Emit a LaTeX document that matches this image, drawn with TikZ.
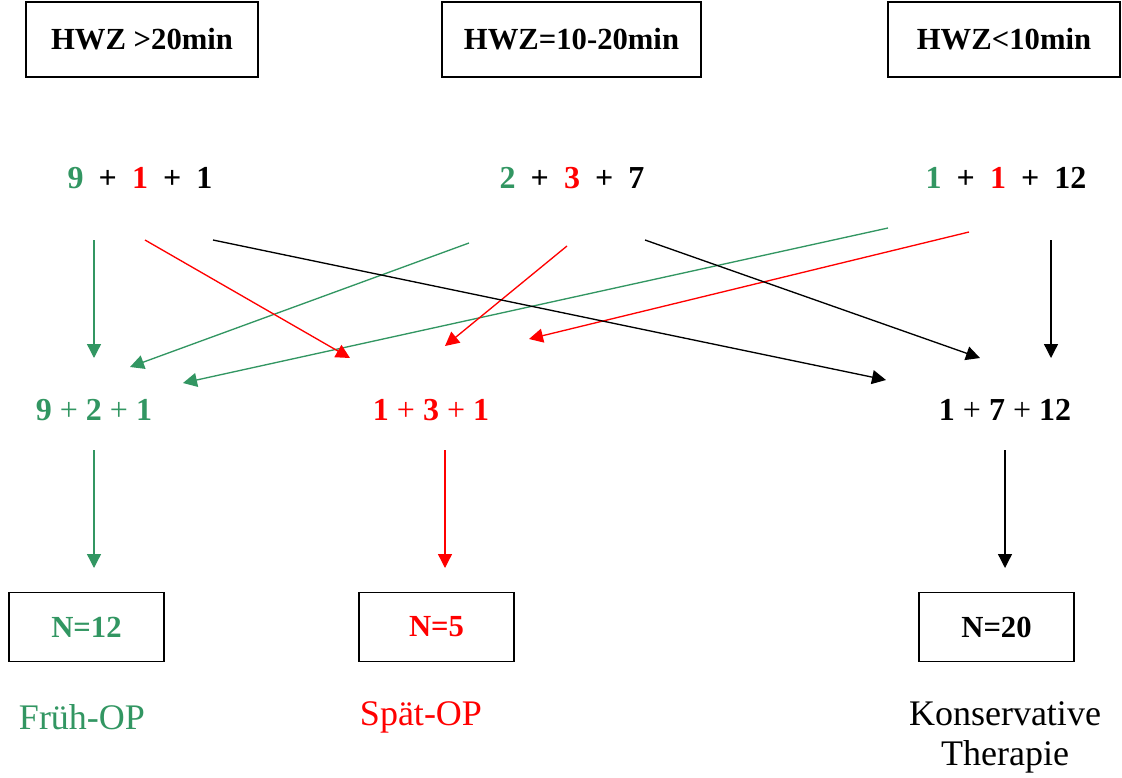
\documentclass[tikz,border=0pt]{standalone}
\usepackage{fontspec}
\setmainfont{Liberation Serif}
\usetikzlibrary{arrows.meta}
\definecolor{grn}{RGB}{50,150,98}
\definecolor{rd}{RGB}{255,0,0}
\begin{document}
\begin{tikzpicture}[x=0.75pt,y=-0.75pt,
  head/.style={draw=black,line width=1.1pt,minimum width=#1,minimum height=56pt,inner sep=0pt,
    font=\fontsize{23}{27}\selectfont\bfseries},
  res/.style={draw=black,line width=1.1pt,minimum width=116pt,minimum height=52pt,inner sep=0pt,
    font=\fontsize{23}{27}\selectfont\bfseries},
  num/.style={inner sep=0pt,font=\fontsize{24}{28}\selectfont\bfseries},
  lab/.style={inner sep=0pt,align=center,font=\fontsize{27}{30}\selectfont},
  link/.style={line width=1pt,-{Triangle[length=10.5pt,width=10.5pt]}}]
\useasboundingbox (0,0) rectangle (1122,778);

% header boxes
\node[head=174pt] (h1) at (142,39.5) {HWZ >20min};
\node[head=194pt] (h2) at (571.5,39.5) {HWZ=10-20min};
\node[head=174pt] (h3) at (1004,39.5) {HWZ<10min};

% counts per group
\newcommand{\gap}{\hspace{0.47em}}
\node[num] (t1) at (140,178) {\textcolor{grn}{9}\gap+\gap\textcolor{rd}{1}\gap+\gap1};
\node[num] (t2) at (572,178) {\textcolor{grn}{2}\gap+\gap\textcolor{rd}{3}\gap+\gap7};
\node[num] (t3) at (1006,178) {\textcolor{grn}{1}\gap+\gap\textcolor{rd}{1}\gap+\gap12};

% sums per therapy
\node[num,text=grn] (m1) at (94,410) {9 {\mdseries+} 2 {\mdseries+} 1};
\node[num,text=rd] (m2) at (431,410) {1 {\mdseries+} 3 {\mdseries+} 1};
\node[num] (m3) at (1005,410) {1 {\mdseries+} 7 {\mdseries+} 12};

% totals
\node[res] (b1) at (86.5,627) {\textcolor{grn}{N=12}};
\node[res] (b2) at (436.5,627) {\textcolor{rd}{N=5}};
\node[res] (b3) at (996.5,627) {N=20};

% therapy labels
\node[lab,text=grn] (l1) at (82,717) {Früh-OP};
\node[lab,text=rd] (l2) at (421,717) {Spät-OP};
\node[lab] (l3) at (1005,737) {Konservative\\Therapie};

% arrow end points
\coordinate (g1s) at (94,240);  \coordinate (g1e) at (94,358);
\coordinate (g2s) at (469,243); \coordinate (g2e) at (130,367);
\coordinate (g3s) at (888,228); \coordinate (g3e) at (183,383);
\coordinate (g4s) at (94,450);  \coordinate (g4e) at (94,568);
\coordinate (r1s) at (145,240); \coordinate (r1e) at (350,358);
\coordinate (r2s) at (567,246); \coordinate (r2e) at (445,346);
\coordinate (r3s) at (969,232); \coordinate (r3e) at (529,339);
\coordinate (r4s) at (445,450); \coordinate (r4e) at (445,568);
\coordinate (k1s) at (213,240); \coordinate (k1e) at (886,380);
\coordinate (k2s) at (645,240); \coordinate (k2e) at (980,358);
\coordinate (k3s) at (1051,240);\coordinate (k3e) at (1051,358);
\coordinate (k4s) at (1005,450);\coordinate (k4e) at (1005,568);

\draw[link,grn] (g1s) -- (g1e);
\draw[link,grn] (g2s) -- (g2e);
\draw[link,grn] (g3s) -- (g3e);
\draw[link,grn] (g4s) -- (g4e);
\draw[link,rd] (r1s) -- (r1e);
\draw[link,rd] (r2s) -- (r2e);
\draw[link,rd] (r3s) -- (r3e);
\draw[link,rd] (r4s) -- (r4e);
\draw[link,black] (k1s) -- (k1e);
\draw[link,black] (k2s) -- (k2e);
\draw[link,black] (k3s) -- (k3e);
\draw[link,black] (k4s) -- (k4e);
\end{tikzpicture}
\end{document}
